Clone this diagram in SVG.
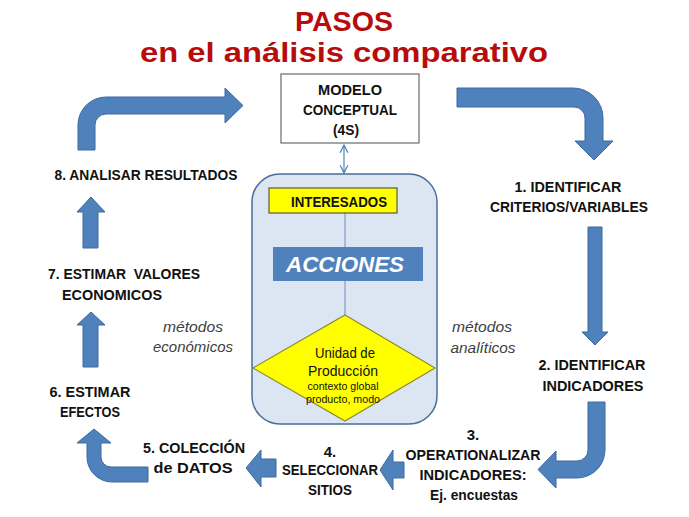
<svg xmlns="http://www.w3.org/2000/svg" width="689" height="517" viewBox="0 0 689 517">
<defs>
<style>
.t{font-family:"Liberation Sans",Arial,sans-serif;font-weight:bold;font-size:15px;fill:#111;text-anchor:middle;white-space:pre}
.title{font-family:"Liberation Sans",Arial,sans-serif;font-weight:bold;fill:#B80C0C;text-anchor:middle}
.it{font-family:"Liberation Sans",Arial,sans-serif;font-style:italic;font-size:15px;fill:#404040;text-anchor:middle}
.arr{fill:#4F81BD;stroke:#3D6A9E;stroke-width:1}
.lnk{stroke:#4F81BD;stroke-width:1.2;fill:none}
.dt{font-family:"Liberation Sans",Arial,sans-serif;fill:#111;text-anchor:middle}
</style>
<marker id="oh" viewBox="0 0 10 10" refX="9" refY="5" markerWidth="8" markerHeight="8" orient="auto-start-reverse">
<path d="M1,1 L9,5 L1,9" fill="none" stroke="#4F81BD" stroke-width="1.3"/>
</marker>
</defs>
<rect width="689" height="517" fill="#fff"/>

<g id="title">
<text class="title" x="344" y="31" font-size="28" textLength="98" lengthAdjust="spacingAndGlyphs">PASOS</text>
<text class="title" x="344" y="62" font-size="27" textLength="408" lengthAdjust="spacingAndGlyphs">en el análisis comparativo</text>
</g>

<g id="connectors">
<path class="arr" d="M78,150 L78,125 A28,28 0 0 1 106,97 L225,97 L225,88 L243,105.5 L225,123 L225,114 L106,114 A11,11 0 0 0 95,125 L95,150 Z"/>
<path class="arr" d="M457,88 L573,88 A30,30 0 0 1 603,118 L603,141 L613,141 L594,160 L575,141 L585,141 L585,118 A11,11 0 0 0 574,107 L457,107 Z"/>
<path class="arr" d="M588,227 L602,227 L602,332 L608,332 L595,345 L582,332 L588,332 Z"/>
<path class="arr" d="M588,402 L605,402 L605,450 A28,28 0 0 1 577,478 L556,478 L556,488 L538,469.5 L556,451 L556,461 L577,461 A11,11 0 0 0 588,450 Z"/>
<path class="arr" d="M404,462 L404,478 L393,478 L393,490 L380,470 L393,450 L393,462 Z"/>
<path class="arr" d="M276,459 L276,477 L261,477 L261,487 L246,468 L261,450 L261,459 Z"/>
<path class="arr" d="M148,467 L148,482 L112,482 A25,25 0 0 1 87,457 L87,443 L77,443 L94,429 L111,443 L101,443 L101,457 A10,10 0 0 0 111,467 Z"/>
<path class="arr" d="M83,367 L83,325 L77,325 L91,312 L105,325 L98,325 L98,367 Z"/>
<path class="arr" d="M83,248 L83,212 L77,212 L91,197 L105,212 L98,212 L98,248 Z"/>
<line class="lnk" x1="344" y1="145" x2="344" y2="173" marker-start="url(#oh)" marker-end="url(#oh)"/>
</g>

<g id="modelo">
<rect x="281" y="74" width="138" height="69" fill="#fff" stroke="#6b6b6b" stroke-width="1.2"/>
<text class="t" x="350" y="95" textLength="64" lengthAdjust="spacingAndGlyphs">MODELO</text>
<text class="t" x="350" y="115" textLength="94" lengthAdjust="spacingAndGlyphs">CONCEPTUAL</text>
<text class="t" x="346" y="135" textLength="26" lengthAdjust="spacingAndGlyphs">(4S)</text>
</g>

<g id="container">
<rect x="252" y="174" width="185" height="250" rx="28" fill="#DCE6F2" stroke="#4A6E9A" stroke-width="1.5"/>
<line x1="345" y1="213" x2="345" y2="247" stroke="#7F9CC4" stroke-width="1.2"/>
<line x1="345" y1="281" x2="345" y2="315" stroke="#7F9CC4" stroke-width="1.2"/>
</g>

<g id="interesados">
<rect x="269" y="188" width="128" height="25" fill="#FFFF00" stroke="#5a5a3a" stroke-width="1.2"/>
<text class="t" x="339" y="207" textLength="96" lengthAdjust="spacingAndGlyphs">INTERESADOS</text>
</g>

<g id="acciones">
<rect x="273" y="247" width="150" height="34" fill="#4F81BD"/>
<text x="345" y="272" font-family="Liberation Sans, Arial, sans-serif" font-weight="bold" font-style="italic" font-size="22" fill="#fff" text-anchor="middle" textLength="118" lengthAdjust="spacingAndGlyphs">ACCIONES</text>
</g>

<g id="unidad">
<polygon points="345,315 435,368 345,421 253,368" fill="#FFFF00" stroke="#8a8a30" stroke-width="1.2"/>
<text class="dt" x="345" y="358" font-size="14" textLength="60" lengthAdjust="spacingAndGlyphs">Unidad de</text>
<text class="dt" x="343" y="376" font-size="14" textLength="70" lengthAdjust="spacingAndGlyphs">Producción</text>
<text class="dt" x="343" y="390" font-size="10" textLength="71" lengthAdjust="spacingAndGlyphs">contexto global</text>
<text class="dt" x="343" y="403" font-size="10" textLength="74" lengthAdjust="spacingAndGlyphs">producto, modo</text>
</g>

<g id="paso1">
<text class="t" x="568" y="192" textLength="107" lengthAdjust="spacingAndGlyphs">1. IDENTIFICAR</text>
<text class="t" x="569" y="212" textLength="158" lengthAdjust="spacingAndGlyphs">CRITERIOS/VARIABLES</text>
</g>
<g id="paso2">
<text class="t" x="592" y="370" textLength="107" lengthAdjust="spacingAndGlyphs">2. IDENTIFICAR</text>
<text class="t" x="593" y="391" textLength="101" lengthAdjust="spacingAndGlyphs">INDICADORES</text>
</g>
<g id="paso3">
<text class="t" x="473" y="440">3.</text>
<text class="t" x="473" y="460" textLength="135" lengthAdjust="spacingAndGlyphs">OPERATIONALIZAR</text>
<text class="t" x="473" y="480" textLength="107" lengthAdjust="spacingAndGlyphs">INDICADORES:</text>
<text class="t" x="474" y="500" textLength="88" lengthAdjust="spacingAndGlyphs">Ej. encuestas</text>
</g>
<g id="paso4">
<text class="t" x="330" y="457">4.</text>
<text class="t" x="330" y="475" textLength="96" lengthAdjust="spacingAndGlyphs">SELECCIONAR</text>
<text class="t" x="330" y="495" textLength="44" lengthAdjust="spacingAndGlyphs">SITIOS</text>
</g>
<g id="paso5">
<text class="t" x="194" y="453" textLength="102" lengthAdjust="spacingAndGlyphs">5. COLECCIÓN</text>
<text class="t" x="193" y="473" textLength="79" lengthAdjust="spacingAndGlyphs">de DATOS</text>
</g>
<g id="paso6">
<text class="t" x="90" y="397" textLength="81" lengthAdjust="spacingAndGlyphs">6. ESTIMAR</text>
<text class="t" x="90" y="417" textLength="60" lengthAdjust="spacingAndGlyphs">EFECTOS</text>
</g>
<g id="paso7">
<text class="t" x="124" y="279" textLength="152" lengthAdjust="spacingAndGlyphs">7. ESTIMAR  VALORES</text>
<text class="t" x="112" y="300" textLength="100" lengthAdjust="spacingAndGlyphs">ECONOMICOS</text>
</g>
<g id="paso8">
<text class="t" x="146" y="180" textLength="183" lengthAdjust="spacingAndGlyphs">8. ANALISAR RESULTADOS</text>
</g>

<g id="metodos-economicos">
<text class="it" x="193" y="332" textLength="60" lengthAdjust="spacingAndGlyphs">métodos</text>
<text class="it" x="193" y="352" textLength="80" lengthAdjust="spacingAndGlyphs">económicos</text>
</g>
<g id="metodos-analiticos">
<text class="it" x="482" y="332" textLength="60" lengthAdjust="spacingAndGlyphs">métodos</text>
<text class="it" x="483" y="353" textLength="65" lengthAdjust="spacingAndGlyphs">analíticos</text>
</g>
</svg>
